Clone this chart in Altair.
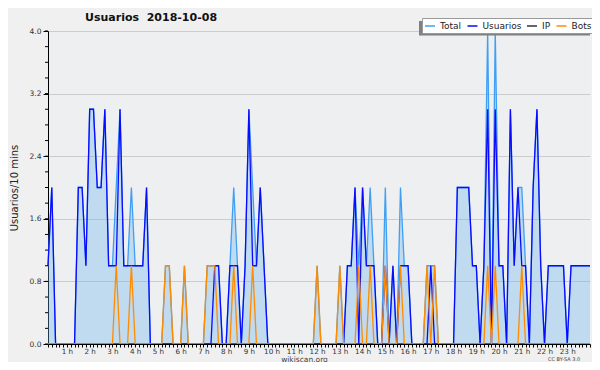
import altair as alt
import pandas as pd

# 10-minute slots of the day
slots = list(range(144))

usuarios = [
    1, 2, 0, 0, 0, 0, 0, 0, 2, 2, 1, 3,
    3, 2, 2, 3, 1, 1, 1, 3, 1, 1, 1, 1,
    1, 1, 2, 0, 0, 0, 0, 0, 0, 0, 0, 0,
    0, 0, 0, 0, 0, 0, 0, 0, 1, 1, 0, 0,
    1, 1, 1, 0, 1, 3, 1, 1, 2, 1, 0, 0,
    0, 0, 0, 0, 0, 0, 0, 0, 0, 0, 0, 0,
    0, 0, 0, 0, 0, 0, 0, 1, 1, 2, 0, 2,
    1, 1, 1, 0, 0, 1, 0, 1, 0, 1, 1, 1,
    0, 0, 0, 0, 0, 1, 0, 0, 0, 0, 0, 0,
    2, 2, 2, 2, 1, 1, 0, 1, 3, 0, 3, 1,
    1, 0, 3, 1, 2, 1, 1, 0, 2, 3, 1, 0,
    1, 1, 1, 1, 1, 0, 1, 1, 1, 1, 1, 1,
]

bots = [
    0, 0, 0, 0, 0, 0, 0, 0, 0, 0, 0, 0,
    0, 0, 0, 0, 0, 0, 1, 0, 0, 0, 1, 0,
    0, 0, 0, 0, 0, 0, 0, 1, 1, 0, 0, 0,
    1, 0, 0, 0, 0, 0, 1, 1, 1, 0, 0, 0,
    0, 1, 0, 0, 0, 0, 1, 0, 0, 0, 0, 0,
    0, 0, 0, 0, 0, 0, 0, 0, 0, 0, 0, 1,
    0, 0, 0, 0, 0, 1, 0, 0, 0, 0, 1, 0,
    0, 1, 0, 0, 0, 1, 0, 0, 0, 1, 0, 0,
    0, 0, 0, 0, 1, 0, 1, 0, 0, 0, 0, 0,
    0, 0, 0, 0, 0, 0, 0, 0, 1, 0, 1, 0,
    0, 0, 0, 0, 0, 1, 0, 0, 0, 0, 0, 0,
    0, 0, 0, 0, 0, 0, 0, 0, 0, 0, 0, 0,
]

ip = [
    0, 0, 0, 0, 0, 0, 0, 0, 0, 0, 0, 0,
    0, 0, 0, 0, 0, 0, 0, 0, 0, 0, 0, 0,
    0, 0, 0, 0, 0, 0, 0, 0, 0, 0, 0, 0,
    0, 0, 0, 0, 0, 0, 0, 0, 0, 0, 0, 0,
    0, 0, 0, 0, 0, 0, 0, 0, 0, 0, 0, 0,
    0, 0, 0, 0, 0, 0, 0, 0, 0, 0, 0, 0,
    0, 0, 0, 0, 0, 0, 0, 0, 0, 0, 0, 0,
    0, 0, 0, 0, 0, 0, 0, 0, 0, 0, 0, 0,
    0, 0, 0, 0, 0, 0, 0, 0, 0, 0, 0, 0,
    0, 0, 0, 0, 0, 0, 0, 0, 0, 0, 0, 0,
    0, 0, 0, 0, 0, 0, 0, 0, 0, 0, 0, 0,
    0, 0, 0, 0, 0, 0, 0, 0, 0, 0, 0, 0,
]

total = [
    1, 2, 0, 0, 0, 0, 0, 0, 2, 2, 1, 3,
    3, 2, 2, 3, 1, 1, 2, 3, 1, 1, 2, 1,
    1, 1, 2, 0, 0, 0, 0, 1, 1, 0, 0, 0,
    1, 0, 0, 0, 0, 0, 1, 1, 1, 1, 0, 0,
    1, 2, 1, 0, 1, 3, 2, 1, 2, 1, 0, 0,
    0, 0, 0, 0, 0, 0, 0, 0, 0, 0, 0, 1,
    0, 0, 0, 0, 0, 1, 0, 1, 1, 2, 1, 2,
    1, 2, 1, 0, 0, 2, 0, 1, 0, 2, 1, 1,
    0, 0, 0, 0, 1, 1, 1, 0, 0, 0, 0, 0,
    2, 2, 2, 2, 1, 1, 0, 1, 4, 0, 4, 1,
    1, 0, 3, 1, 2, 2, 1, 0, 2, 3, 1, 0,
    1, 1, 1, 1, 1, 0, 1, 1, 1, 1, 1, 1,
]

series_names = ["Total", "Usuarios", "IP", "Bots"]
series_colors = ["#3f9ff5", "#0a0aff", "#333333", "#ff8c00"]
y_major = [0.0, 0.8, 1.6, 2.4, 3.2, 4.0]
y_minor = [0.0, 0.2, 0.4, 0.6, 0.8, 1.0, 1.2, 1.4, 1.6, 1.8, 2.0,
           2.2, 2.4, 2.6, 2.8, 3.0, 3.2, 3.4, 3.6, 3.8, 4.0]
title_text = "Usuarios\u00a0\u00a02018-10-08"
credit_text = "CC BY-SA 3.0"

rows = []
for name, vals in zip(series_names, [total, usuarios, ip, bots]):
    for s, v in zip(slots, vals):
        rows.append({"slot": s, "serie": name, "valor": v})
long_df = pd.DataFrame(rows)
wide_df = pd.DataFrame({"slot": slots, "valor": total})
minor_df = pd.DataFrame({"valor": y_minor})
one_df = pd.DataFrame({"a": [0]})

FONT = "DejaVu Sans"
x_scale = alt.Scale(domain=[0, 143], nice=False, zero=False)
y_scale = alt.Scale(domain=[0, 4], nice=False, zero=True)

label_expr = ("((datum.value + 1) % 6 == 0 && datum.value < 140) ? "
              "((datum.value + 1) / 6) + ' h' : ''")

x_axis = alt.Axis(
    values=slots, labelExpr=label_expr, tickSize=3, tickColor="black",
    domainColor="black", labelFont=FONT, labelFontSize=7.2, labelColor="#333333",
    labelPadding=0, labelOverlap=False, labelFlush=False, grid=False,
    title="wikiscan.org", titleFont=FONT, titleFontSize=7.5, titleFontWeight="normal",
    titleColor="#444444", titleX=256, titleY=17, titleBaseline="alphabetic",
    titleAlign="center", zindex=1,
)
y_axis = alt.Axis(
    values=y_major, format=".1f", tickSize=5, tickColor="black", domainColor="black",
    labelFont=FONT, labelFontSize=7.5, labelColor="#333333", labelPadding=2,
    grid=True, gridColor="#cccccc", gridWidth=1,
    title="Usuarios/10 mins", titleFont=FONT, titleFontSize=10, titleFontWeight="normal",
    titleColor="#222222", titleX=-34, titleY=156.5, titleAngle=-90,
    titleAlign="center", titleBaseline="middle", labelFlush=False, zindex=0,
)

X = alt.X("slot:Q", scale=x_scale, axis=x_axis)
Y = alt.Y("valor:Q", scale=y_scale, axis=y_axis)

area = alt.Chart(wide_df).mark_area(color="#65b0ee", opacity=0.33).encode(x=X, y=Y)

legend = alt.Legend(
    orient="none", legendX=374, legendY=-13, direction="horizontal", columns=4,
    symbolType="stroke", symbolSize=100, symbolStrokeWidth=1.5,
    labelFont=FONT, labelFontSize=9, labelColor="#222222", labelOffset=4,
    fillColor="white", strokeColor="#9a9a9a", padding=2, columnPadding=2.5,
    gridAlign="none", title=None,
)
color_scale = alt.Scale(domain=series_names, range=series_colors)

lines = []
for name in series_names:
    lines.append(
        alt.Chart(long_df).transform_filter(alt.datum.serie == name)
        .mark_line(strokeWidth=1.3)
        .encode(
            x=X, y=Y,
            color=alt.Color("serie:N", scale=color_scale, legend=legend),
        )
    )

minor_ticks = alt.Chart(minor_df).mark_rule(color="black", strokeWidth=1).encode(
    y=Y, x=alt.value(-3), x2=alt.value(0)
)

shadow = alt.Chart(one_df).mark_rect(color="#808080").encode(
    x=alt.value(371), x2=alt.value(542), y=alt.value(-10), y2=alt.value(4.5)
)

title_mark = alt.Chart(one_df).mark_text(
    text=title_text, font=FONT, fontSize=11, fontWeight="bold", color="#111111",
    align="left", baseline="alphabetic",
).encode(x=alt.value(37), y=alt.value(-10))

credit = alt.Chart(one_df).mark_text(
    text=credit_text, font=FONT, fontSize=5, color="#444444", align="left",
    baseline="alphabetic",
).encode(x=alt.value(500), y=alt.value(330))

chart = alt.layer(area, *lines, minor_ticks, shadow, title_mark, credit).properties(
    width=542, height=313,
    autosize=alt.AutoSizeParams(type="none"),
    padding={"left": 40, "top": 23, "right": 2, "bottom": 18},
    background="#f0f0f0",
).configure_view(fill="#eeeff1", stroke=None)

chart.save("out.html", embed_options={"renderer": "svg", "actions": False})
